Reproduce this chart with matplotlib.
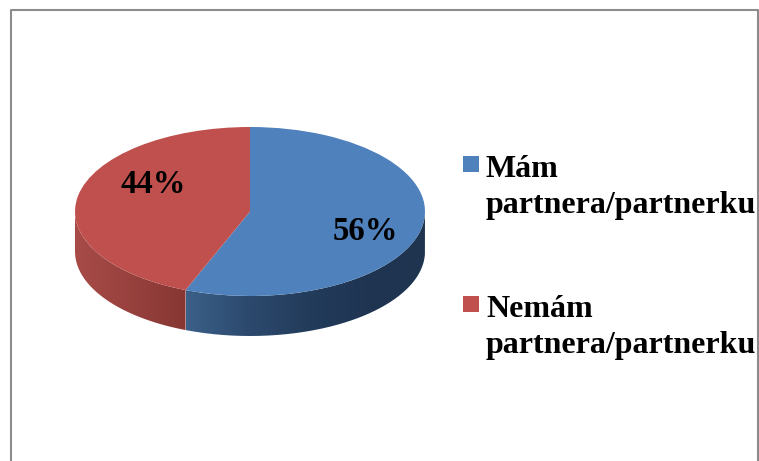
import numpy as np
import matplotlib
matplotlib.use("Agg")
import matplotlib.pyplot as plt
from matplotlib.colors import LinearSegmentedColormap
from matplotlib.patches import PathPatch, Rectangle
from matplotlib.path import Path

# values
labels = ["Mám\npartnera/partnerku", "Nemám\npartnera/partnerku"]
shares = [56, 44]

colors = ["#4F81BD", "#C0504D"]
wall_colors = [["#3B6089", "#2D4A6E", "#233C5C", "#1F3552", "#20344F"], ["#A84B48", "#873733"]]
label_pos = [(365, 231), (153, 184)]
legend_y = [156, 296]

plt.rcParams["font.family"] = ["Liberation Serif", "DejaVu Serif"]

W, H = 759, 461
fig = plt.figure(figsize=(W / 100, H / 100), dpi=100)

# pie is squashed by the axes box, top face 75..425 / 127..296, wall 40 px deep
depth = 40 / 84.5
ax = fig.add_axes([75 / W, (H - 336) / H, 350 / W, 209 / H])
wedges, _ = ax.pie(shares, colors=colors, startangle=90, counterclock=False, radius=1)
for w in wedges:
    w.set_zorder(5)
    w.set_linewidth(0)

# side wall, only the part of each slice facing the viewer
for w, wall in zip(wedges, wall_colors):
    t1, t2 = sorted([w.theta1, w.theta2])
    t = np.radians(np.linspace(t1, t2, 400))
    t = t[np.sin(t) <= 0]
    x, y = np.cos(t), np.sin(t)
    xy = np.r_[np.c_[x, y], np.c_[x[::-1], y[::-1] - depth], [[x[0], y[0]]]]
    cmap = LinearSegmentedColormap.from_list("wall", wall)
    im = ax.imshow(np.linspace(0, 1, 256)[None, :], cmap=cmap, aspect="auto",
                   extent=(x.min(), x.max(), -1 - depth, 0), zorder=2)
    clip = PathPatch(Path(xy), transform=ax.transData, fc="none", ec="none")
    ax.add_patch(clip)
    im.set_clip_path(clip)

ax.set_aspect("auto")
ax.set_xlim(-1, 1)
ax.set_ylim(-1 - depth, 1)
ax.axis("off")

# overlay in pixel coordinates for frame, labels and legend
ov = fig.add_axes([0, 0, 1, 1], facecolor="none")
ov.set_xlim(0, W)
ov.set_ylim(H, 0)
ov.axis("off")
ov.plot([11, 11, 758, 758], [H, 10.5, 10.5, H], color="#8C8C8C", lw=1.5)

for v, (px, py) in zip(shares, label_pos):
    ov.text(px, py, f"{v}%", fontsize=23.5, fontweight="bold", color="black", ha="center", va="center")

for lab, c, ly in zip(labels, colors, legend_y):
    ov.add_patch(Rectangle((463, ly), 16, 16, fc=c, ec="none"))
    ov.text(486, ly - 1.5, lab, fontsize=23, fontweight="bold", color="black", ha="left", va="top", linespacing=1.36)

fig.savefig("out.png", dpi=100)
